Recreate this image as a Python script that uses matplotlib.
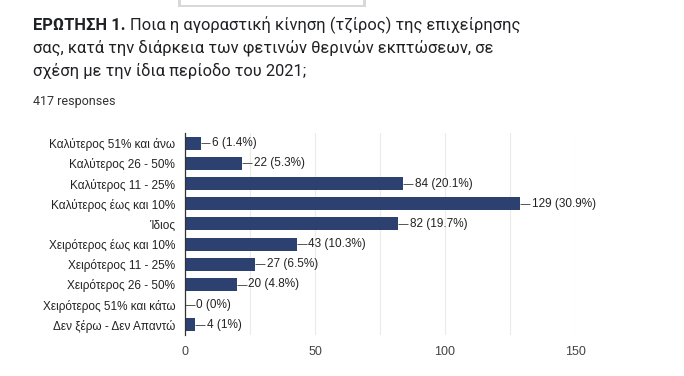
import matplotlib
matplotlib.use("Agg")
import matplotlib.pyplot as plt
from matplotlib.patches import Rectangle

categories = ["Καλύτερος 51% και άνω", "Καλύτερος 26 - 50%", "Καλύτερος 11 - 25%",
              "Καλύτερος έως και 10%", "Ίδιος", "Χειρότερος έως και 10%",
              "Χειρότερος 11 - 25%", "Χειρότερος 26 - 50%", "Χειρότερος 51% και κάτω",
              "Δεν ξέρω - Δεν Απαντώ"]
counts = [6, 22, 84, 129, 82, 43, 27, 20, 0, 4]
percents = ["1.4%", "5.3%", "20.1%", "30.9%", "19.7%", "10.3%", "6.5%", "4.8%", "0%", "1%"]
xticks = [0, 50, 100, 150]
gridticks = [0, 25, 50, 75, 100, 125, 150]

W, H = 684, 376
fig = plt.figure(figsize=(W / 100, H / 100), dpi=100)

bar_color = "#2c4170"
label_font = ["Liberation Sans", "DejaVu Sans"]

# axes: x 185..575 px, y 133..335 px
ax = fig.add_axes([185 / W, 1 - 335 / H, (575 - 185) / W, (335 - 133) / H])
n = len(categories)
ypos = list(range(n))
ax.barh(ypos, counts, height=0.64, color=bar_color, zorder=3)
ax.set_ylim(n - 0.5, -0.5)
ax.set_xlim(0, 150)
ax.set_xticks(gridticks, minor=False)
ax.set_xticklabels([str(t) if t in xticks else "" for t in gridticks],
                   fontfamily=label_font, fontsize=9, color="#444444")
ax.tick_params(axis="x", length=0, pad=8)
ax.set_yticks(ypos)
ax.set_yticklabels(categories, fontfamily=label_font, fontsize=8.5, color="#222222")
ax.tick_params(axis="y", length=0, pad=7)
ax.grid(axis="x", color="#ebebeb", linewidth=0.8, zorder=0)
for s in ["top", "right", "bottom"]:
    ax.spines[s].set_visible(False)
ax.spines["left"].set_color("#333333")
ax.spines["left"].set_linewidth(0.9)
ax.spines["left"].set_zorder(4)

for y, c, p in zip(ypos, counts, percents):
    ax.plot([c, c + 3.8], [y, y], color="#555555", linewidth=0.7, zorder=4, solid_capstyle="butt")
    ax.text(c + 4.4, y, f"{c} ({p})", va="center", ha="left", fontfamily=label_font,
            fontsize=8.5, color="#222222", zorder=4)

# Title
title_font = ["Roboto", "DejaVu Sans"]
fig.canvas.draw()
renderer = fig.canvas.get_renderer()
x0 = 33 / W
t_bold = fig.text(x0, 1 - 30 / H, "ΕΡΩΤΗΣΗ 1.", fontfamily=title_font, fontweight="bold",
                  fontsize=11.9, color="#202124", va="baseline", ha="left")
bb = t_bold.get_window_extent(renderer=renderer)
fig.text(bb.x1 / W + 4 / W, 1 - 30 / H, "Ποια η αγοραστική κίνηση (τζίρος) της επιχείρησης",
         fontfamily=title_font, fontsize=11.9, color="#202124", va="baseline", ha="left")
fig.text(x0, 1 - 53 / H, "σας, κατά την διάρκεια των φετινών θερινών εκπτώσεων, σε",
         fontfamily=title_font, fontsize=11.9, color="#202124", va="baseline", ha="left")
fig.text(x0, 1 - 76 / H, "σχέση με την ίδια περίοδο του 2021;",
         fontfamily=title_font, fontsize=11.9, color="#202124", va="baseline", ha="left")
fig.text(x0, 1 - 105 / H, "417 responses", fontfamily=title_font, fontsize=9,
         color="#333333", va="baseline", ha="left")

# screenshot artifact: white tab with shadow at top
fig.patches.append(Rectangle((178 / W, 1 - 7 / H), (366 - 178) / W, 7 / H,
                             transform=fig.transFigure, facecolor="#d8d8d8",
                             edgecolor="none", zorder=0))
fig.patches.append(Rectangle((181 / W, 1 - 5 / H), (363 - 181) / W, 5 / H,
                             transform=fig.transFigure, facecolor="white",
                             edgecolor="none", zorder=1))

fig.savefig("out.png", dpi=100)
